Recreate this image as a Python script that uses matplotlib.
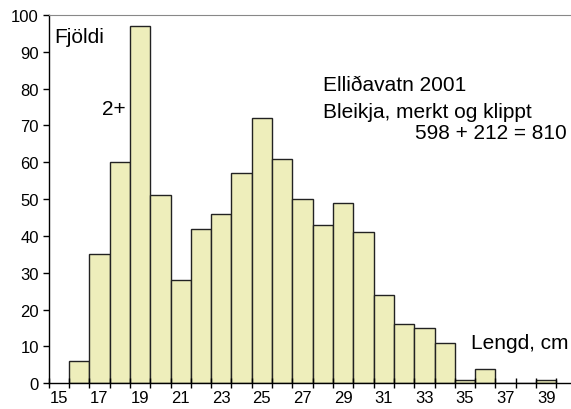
import matplotlib as mpl
mpl.use('Agg')
import matplotlib.pyplot as plt

# length classes (cm, left edge of each bin) and counts
lengd = [16, 17, 18, 19, 20, 21, 22, 23, 24, 25, 26, 27, 28, 29, 30,
         31, 32, 33, 34, 35, 36, 37, 38, 39]
fjoldi = [6, 35, 60, 97, 51, 28, 42, 46, 57, 72, 61, 50, 43, 49, 41,
          24, 16, 15, 11, 1, 4, 0, 0, 1]
tick_labels = [15, 17, 19, 21, 23, 25, 27, 29, 31, 33, 35, 37, 39]

plt.rcParams['font.family'] = ['Liberation Sans', 'DejaVu Sans']

fig = plt.figure(figsize=(5.71, 4.10), dpi=100)
ax = fig.add_axes([0.0853, 0.0627, 0.9147, 0.8983])

ax.bar(lengd, fjoldi, width=1.0, align='edge', color='#EEEEBB',
       edgecolor='#222222', linewidth=1.0)

ax.set_xlim(15, 40.72)
ax.set_ylim(0, 100)

# ticks at every bin edge, labels centred in every second bin
ax.set_xticks(range(15, 41))
ax.set_xticklabels([])
ax.set_xticks([v + 0.5 for v in tick_labels], minor=True)
ax.set_xticklabels([str(v) for v in tick_labels], minor=True)
ax.tick_params(axis='x', which='major', direction='inout', length=7, width=1)
ax.tick_params(axis='x', which='minor', length=0, pad=5, labelsize=12)
ax.set_yticks(range(0, 101, 10))
ax.tick_params(axis='y', direction='out', length=4, width=1, labelsize=12, pad=3)

ax.spines['right'].set_visible(False)
ax.spines['top'].set_color('#888888')
ax.spines['left'].set_linewidth(1)
ax.spines['bottom'].set_linewidth(1)

fs = 15
ax.text(15.26, 92.7, 'Fjöldi', fontsize=fs, va='baseline')
ax.text(17.61, 73.1, '2+', fontsize=fs, va='baseline')
ax.text(28.5, 79.6, 'Elliðavatn 2001', fontsize=fs, va='baseline')
ax.text(28.5, 72.2, 'Bleikja, merkt og klippt', fontsize=fs, va='baseline')
ax.text(40.52, 66.6, '598 + 212 = 810', fontsize=fs, va='baseline', ha='right')
ax.text(35.8, 9.6, 'Lengd, cm', fontsize=fs, va='baseline')

plt.savefig('out.png', dpi=100)
